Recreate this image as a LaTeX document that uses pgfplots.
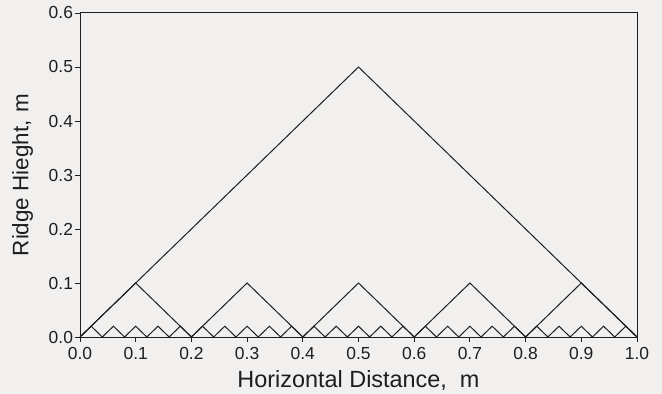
\documentclass[border=0pt]{standalone}
\usepackage{pgfplots}
\pgfplotsset{compat=1.18}
\usepackage{fontspec}
\setmainfont{Liberation Sans}
\definecolor{paper}{RGB}{241,240,238}
\definecolor{ink}{RGB}{30,30,30}
\begin{document}
\begin{tikzpicture}[x=1bp,y=1bp]
\fill[paper] (-80bp,-57bp) rectangle (582bp,337bp);
\begin{axis}[
  at={(0,0)}, anchor=south west,
  scale only axis, width=557bp, height=324bp,
  xmin=0, xmax=1, ymin=0, ymax=0.6,
  xtick={0,0.1,...,1.0}, ytick={0,0.1,...,0.6},
  /pgf/number format/assume math mode=true,
  xticklabel style={/pgf/number format/.cd,fixed,fixed zerofill,precision=1},
  yticklabel style={/pgf/number format/.cd,fixed,fixed zerofill,precision=1},
  tick label style={font=\fontsize{17.5}{18}\selectfont, text=ink},
  tick align=outside, tick pos=left,
  major tick length=4.5bp,
  every tick/.style={ink, line width=0.9pt},
  axis line style={ink, line width=1pt},
  xticklabel shift=2bp, yticklabel shift=-1bp,
  xlabel={Horizontal Distance,\ \ m}, ylabel={Ridge Hieght,\hspace{0.35em}m},
  label style={text=ink},
  xlabel style={font=\fontsize{23.5}{24}\selectfont, at={(axis description cs:0.5,-0.157)}, anchor=base},
  ylabel style={font=\fontsize{22.5}{23}\selectfont, at={(axis description cs:-0.103,0.5)}, anchor=center},
]
\addplot[ink, line width=1pt] coordinates {(0,0) (0.5,0.5) (1,0)};
\addplot[ink, line width=1pt] coordinates {(0,0)(0.1,0.1)(0.2,0)(0.3,0.1)(0.4,0)(0.5,0.1)(0.6,0)(0.7,0.1)(0.8,0)(0.9,0.1)(1,0)};
\addplot[ink, line width=1pt] coordinates {
(0.00,0)(0.02,0.02)(0.04,0)(0.06,0.02)(0.08,0)(0.10,0.02)(0.12,0)(0.14,0.02)(0.16,0)(0.18,0.02)
(0.20,0)(0.22,0.02)(0.24,0)(0.26,0.02)(0.28,0)(0.30,0.02)(0.32,0)(0.34,0.02)(0.36,0)(0.38,0.02)
(0.40,0)(0.42,0.02)(0.44,0)(0.46,0.02)(0.48,0)(0.50,0.02)(0.52,0)(0.54,0.02)(0.56,0)(0.58,0.02)
(0.60,0)(0.62,0.02)(0.64,0)(0.66,0.02)(0.68,0)(0.70,0.02)(0.72,0)(0.74,0.02)(0.76,0)(0.78,0.02)
(0.80,0)(0.82,0.02)(0.84,0)(0.86,0.02)(0.88,0)(0.90,0.02)(0.92,0)(0.94,0.02)(0.96,0)(0.98,0.02)
(1.00,0)};
\end{axis}
\pgfresetboundingbox
\path[use as bounding box] (-80bp,-57bp) rectangle (582bp,337bp);
\end{tikzpicture}
\end{document}
